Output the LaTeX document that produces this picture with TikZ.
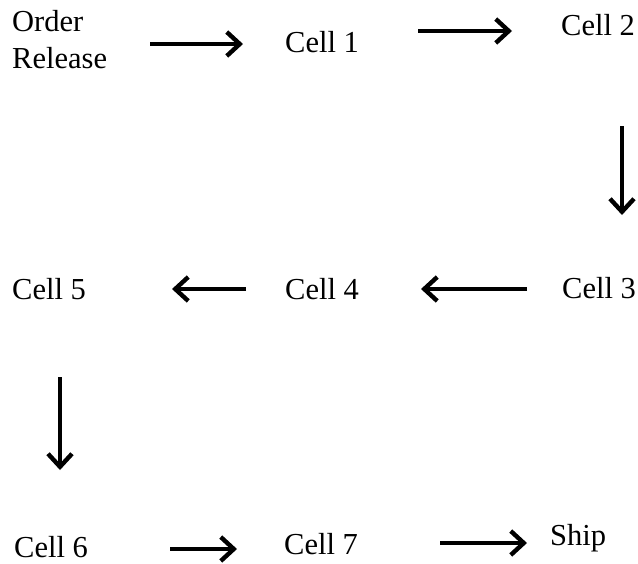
\documentclass[tikz,border=0pt]{standalone}
\usepackage{fontspec}
\setmainfont{Liberation Serif}
\usetikzlibrary{arrows.meta}
\begin{document}
\begin{tikzpicture}[x=1pt,y=-1pt,
  label/.style={anchor=base west,inner sep=0pt,align=left,
    font=\fontsize{30.5}{37}\selectfont},
  flow/.style={line width=3.8pt,
    -{Straight Barb[length=13pt,width=24pt,line width=4.4pt]}}]
\useasboundingbox (0,0) rectangle (638,563);

% stations
\node[label] (rel)  at (12,68)   {Order\\Release};
\node[label] (c1)   at (285,52)  {Cell 1};
\node[label] (c2)   at (561,35)  {Cell 2};
\node[label] (c3)   at (562,298) {Cell 3};
\node[label] (c4)   at (285,299) {Cell 4};
\node[label] (c5)   at (12,299)  {Cell 5};
\node[label] (c6)   at (14,557)  {Cell 6};
\node[label] (c7)   at (284,554) {Cell 7};
\node[label] (ship) at (550,545) {Ship};

% arrow end points
\coordinate (a1s) at (150,44);  \coordinate (a1e) at (243,44);
\coordinate (a2s) at (418,31);  \coordinate (a2e) at (512,31);
\coordinate (a3s) at (622,126); \coordinate (a3e) at (622,215);
\coordinate (a4s) at (527,289); \coordinate (a4e) at (421,289);
\coordinate (a5s) at (246,289); \coordinate (a5e) at (172,289);
\coordinate (a6s) at (60,377);  \coordinate (a6e) at (60,470);
\coordinate (a7s) at (170,549); \coordinate (a7e) at (237,549);
\coordinate (a8s) at (440,543); \coordinate (a8e) at (527,543);

% material flow
\draw[flow] (a1s) -- (a1e);
\draw[flow] (a2s) -- (a2e);
\draw[flow] (a3s) -- (a3e);
\draw[flow] (a4s) -- (a4e);
\draw[flow] (a5s) -- (a5e);
\draw[flow] (a6s) -- (a6e);
\draw[flow] (a7s) -- (a7e);
\draw[flow] (a8s) -- (a8e);
\end{tikzpicture}
\end{document}
